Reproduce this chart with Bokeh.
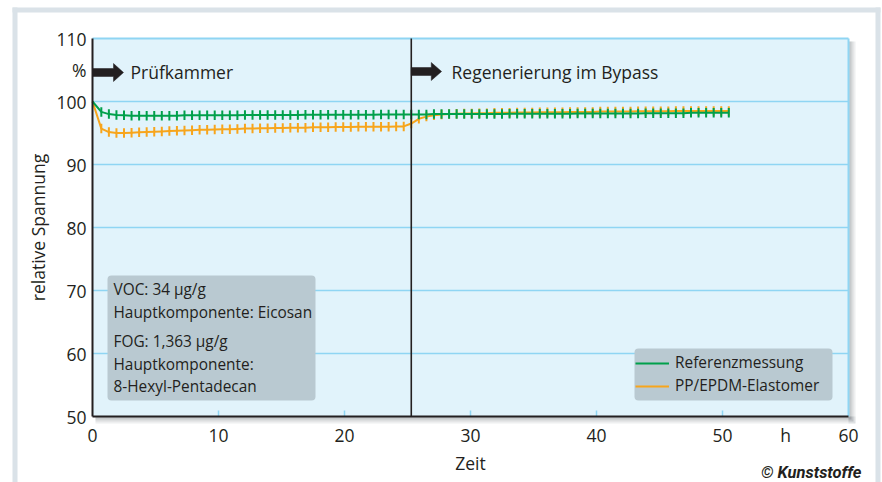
import math
from bokeh.plotting import figure
from bokeh.models import (Range1d, FixedTicker, Label, BoxAnnotation,
                          Legend, LegendItem)
from bokeh.embed import file_html
from bokeh.resources import INLINE

# ---------------- data ----------------
start_time = 0.0
start_value = 100.0

times = [0.7, 1.3, 1.9, 2.5, 3.1, 3.7, 4.3, 4.9, 5.5, 6.1,
         6.7, 7.3, 7.9, 8.5, 9.1, 9.7, 10.3, 10.9, 11.5, 12.1,
         12.7, 13.3, 13.9, 14.5, 15.1, 15.7, 16.3, 16.9, 17.5, 18.1,
         18.7, 19.3, 19.9, 20.5, 21.1, 21.7, 22.3, 22.9, 23.5, 24.1,
         24.7, 25.3, 25.9, 26.5, 27.1, 27.7, 28.3, 28.9, 29.5, 30.1,
         30.7, 31.3, 31.9, 32.5, 33.1, 33.7, 34.3, 34.9, 35.5, 36.1,
         36.7, 37.3, 37.9, 38.5, 39.1, 39.7, 40.3, 40.9, 41.5, 42.1,
         42.7, 43.3, 43.9, 44.5, 45.1, 45.7, 46.3, 46.9, 47.5, 48.1,
         48.7, 49.3, 49.9, 50.5]

referenz = [98.35, 98.0, 97.85, 97.8, 97.75, 97.75, 97.75, 97.75, 97.75, 97.75,
            97.75, 97.8, 97.8, 97.8, 97.8, 97.8, 97.8, 97.8, 97.8, 97.85,
            97.85, 97.85, 97.85, 97.85, 97.85, 97.85, 97.85, 97.9, 97.9, 97.9,
            97.9, 97.9, 97.9, 97.9, 97.9, 97.9, 97.9, 97.95, 97.95, 97.95,
            97.95, 97.95, 97.95, 97.95, 98.0, 98.0, 98.0, 98.0, 98.0, 98.0,
            98.0, 98.0, 98.0, 98.0, 98.05, 98.05, 98.05, 98.05, 98.05, 98.05,
            98.05, 98.05, 98.05, 98.1, 98.1, 98.1, 98.1, 98.1, 98.1, 98.1,
            98.1, 98.1, 98.15, 98.15, 98.15, 98.15, 98.15, 98.15, 98.2, 98.2,
            98.2, 98.2, 98.2, 98.2]

elastomer = [95.7, 95.15, 95.0, 95.0, 95.05, 95.1, 95.15, 95.2, 95.25, 95.3,
             95.35, 95.4, 95.45, 95.5, 95.5, 95.55, 95.6, 95.6, 95.65, 95.7,
             95.7, 95.75, 95.75, 95.8, 95.8, 95.85, 95.85, 95.85, 95.9, 95.9,
             95.9, 95.95, 95.95, 95.95, 96.0, 96.0, 96.0, 96.0, 96.0, 96.05,
             96.05, 96.5, 97.25, 97.6, 97.8, 97.95, 98.0, 98.05, 98.1, 98.1,
             98.15, 98.15, 98.2, 98.2, 98.2, 98.25, 98.25, 98.25, 98.3, 98.3,
             98.3, 98.3, 98.35, 98.35, 98.35, 98.35, 98.4, 98.4, 98.4, 98.4,
             98.4, 98.45, 98.45, 98.45, 98.45, 98.45, 98.5, 98.5, 98.5, 98.5,
             98.5, 98.5, 98.5, 98.5]

series_names = ["Referenzmessung", "PP/EPDM-Elastomer"]
x_ticks = [0, 10, 20, 30, 40, 50, 60]
x_unit_tick = 55
y_ticks = [50, 60, 70, 80, 90, 100, 110]
y_unit_tick = 105
grid_ticks = [60, 70, 80, 90, 100]
phase_switch = 25.3
phase_labels = ["Prüfkammer", "Regenerierung im Bypass"]
info_lines = ["VOC: 34 µg/g", "Hauptkomponente: Eicosan",
              "FOG: 1,363 µg/g", "Hauptkomponente:", "8-Hexyl-Pentadecan"]

# ---------------- geometry (frame covers the whole canvas) ----------------
W, H = 882, 482
X0, Y0 = 92, 416          # pixel of (0, 50)
PXX = 756 / 60.0          # px per hour
PXY = 378 / 60.0          # px per percent
XMIN, XMAX, YMIN, YMAX = 0, 60, 50, 110


def dx(px):
    return (px - X0) / PXX


def dy(py):
    return YMIN + (Y0 - py) / PXY


FONT = "Open Sans"
INK = "#231f20"
GREEN = "#00a04b"
ORANGE = "#f7a51c"
GRID = "#8fd5f3"
PANEL = "#e1f3fb"
BOXGRAY = "#b9c9d1"
FRAMEGRAY = "#dae2e8"

p = figure(width=W, height=H, x_range=Range1d(dx(0), dx(W)), y_range=Range1d(dy(H), dy(0)),
           output_backend="svg", toolbar_location=None,
           min_border_left=0, min_border_right=0, min_border_top=0, min_border_bottom=0)
p.background_fill_color = "white"
p.border_fill_color = "white"
p.outline_line_color = None
p.xgrid.visible = False
p.ygrid.visible = False

# outer frame bands
p.quad(left=[dx(12), dx(12), dx(875)], right=[dx(880), dx(17), dx(880)],
       top=[dy(7), dy(7), dy(7)], bottom=[dy(12), dy(H), dy(H)],
       fill_color=FRAMEGRAY, line_color=None)

# drop shadow of the plot panel
for off, a in [(7, 0.10), (5, 0.12), (3, 0.16)]:
    p.quad(left=[dx(848), dx(X0 + 3)], right=[dx(848 + off), dx(848 + off)],
           top=[dy(38 + 3), dy(Y0)], bottom=[dy(Y0 + off), dy(Y0 + off)],
           fill_color="#5c666c", fill_alpha=a, line_color=None)

# panel
p.quad(left=[XMIN], right=[XMAX], bottom=[YMIN], top=[YMAX],
       fill_color=PANEL, line_color=None)

# grid lines, upper/right border, inner x ticks
p.segment(x0=[XMIN] * len(grid_ticks), x1=[XMAX] * len(grid_ticks),
          y0=grid_ticks, y1=grid_ticks, line_color=GRID, line_width=1.5)
p.segment(x0=[XMIN, XMAX], x1=[XMAX, XMAX], y0=[YMAX, YMIN], y1=[YMAX, YMAX],
          line_color=GRID, line_width=2)
inner = x_ticks[1:-1]
p.segment(x0=inner, x1=inner, y0=[YMIN] * len(inner), y1=[YMIN + 6 / PXY] * len(inner),
          line_color=GRID, line_width=1.5)

# axes on fixed locations
p.xaxis.fixed_location = YMIN
p.yaxis.fixed_location = XMIN
p.xaxis.bounds = (XMIN, XMAX)
p.yaxis.bounds = (YMIN, YMAX)
p.xaxis.ticker = FixedTicker(ticks=x_ticks + [x_unit_tick])
p.xaxis.major_label_overrides = {x_unit_tick: "h"}
p.yaxis.ticker = FixedTicker(ticks=y_ticks + [y_unit_tick])
p.yaxis.major_label_overrides = {y_unit_tick: "%"}
for ax in (p.xaxis[0], p.yaxis[0]):
    ax.axis_line_color = INK
    ax.axis_line_width = 2
    ax.major_tick_line_color = None
    ax.minor_tick_line_color = None
    ax.major_label_text_font = FONT
    ax.major_label_text_font_size = "17.5px"
    ax.major_label_text_color = INK
    ax.axis_label_text_font = FONT
    ax.axis_label_text_font_size = "17.5px"
    ax.axis_label_text_font_style = "normal"
    ax.axis_label_text_color = INK
p.yaxis.major_label_standoff = 0
p.yaxis.axis_label = "relative Spannung"
p.yaxis.axis_label_standoff = 3
p.xaxis.major_label_standoff = 0
p.xaxis.axis_label = "Zeit"
p.xaxis.axis_label_standoff = 1

# data lines
o_line = p.line([start_time] + times, [start_value] + elastomer,
                line_color=ORANGE, line_width=2)
p.scatter(times, elastomer, marker="dash", angle=math.pi / 2, size=9.5,
          line_color=ORANGE, line_width=2)
g_line = p.line([start_time] + times, [start_value] + referenz,
                line_color=GREEN, line_width=2)
p.scatter(times, referenz, marker="dash", angle=math.pi / 2, size=9.5,
          line_color=GREEN, line_width=2)

# phase separator
p.segment(x0=[phase_switch], x1=[phase_switch], y0=[YMIN], y1=[YMAX],
          line_color=INK, line_width=1.6)


def arrow(x0, yc, shaft_px=21, head_px=10, half_shaft=4, half_head=9):
    xs = x0 + shaft_px / PXX
    xt = xs + head_px / PXX
    hs = half_shaft / PXY
    hh = half_head / PXY
    xsv = [x0, xs, xs, xt, xs, xs, x0]
    ysv = [yc - hs, yc - hs, yc - hh, yc, yc + hh, yc + hs, yc + hs]
    p.patch(xsv, ysv, fill_color=INK, line_color=INK, line_width=0.5)


arrow(XMIN, dy(72))
arrow(phase_switch, dy(71), shaft_px=20, head_px=10.3)

p.add_layout(Label(x=dx(130), y=dy(71), text=phase_labels[0], text_font=FONT,
                   text_font_size="17.5px", text_baseline="middle", text_color=INK))
p.add_layout(Label(x=dx(451), y=dy(71), text=phase_labels[1], text_font=FONT,
                   text_font_size="17.5px", text_baseline="middle", text_color=INK))

# info box
p.add_layout(BoxAnnotation(left=dx(107), right=dx(315), bottom=dy(400), top=dy(275),
                           fill_color=BOXGRAY, fill_alpha=1, line_color=None,
                           border_radius=4))
info_py = [289, 312, 341, 364, 386]
for txt, py in zip(info_lines, info_py):
    p.add_layout(Label(x=dx(113), y=dy(py), text=txt, text_font=FONT,
                       text_font_size="15.4px", text_baseline="middle", text_color=INK))

# legend: rounded background box + transparent legend on top
p.add_layout(BoxAnnotation(left=dx(634), right=dx(832), bottom=dy(400), top=dy(348),
                           fill_color=BOXGRAY, fill_alpha=1, line_color=None,
                           border_radius=4))
legend = Legend(items=[LegendItem(label=series_names[0], renderers=[g_line]),
                       LegendItem(label=series_names[1], renderers=[o_line])],
                location=(635, H - 396), background_fill_alpha=0,
                border_line_color=None,
                label_text_font=FONT, label_text_font_size="15.4px",
                label_text_color=INK, glyph_width=34, glyph_height=20,
                label_height=20, label_standoff=6, padding=6, spacing=2, margin=0)
p.add_layout(legend)

# copyright
p.add_layout(Label(x=dx(861), y=dy(471.5), text="© Kunststoffe", text_font="Roboto",
                   text_font_size="16.5px", text_font_style="bold italic",
                   text_align="right", text_baseline="middle", text_color=INK))

open("out.html", "w").write(file_html(p, INLINE))
